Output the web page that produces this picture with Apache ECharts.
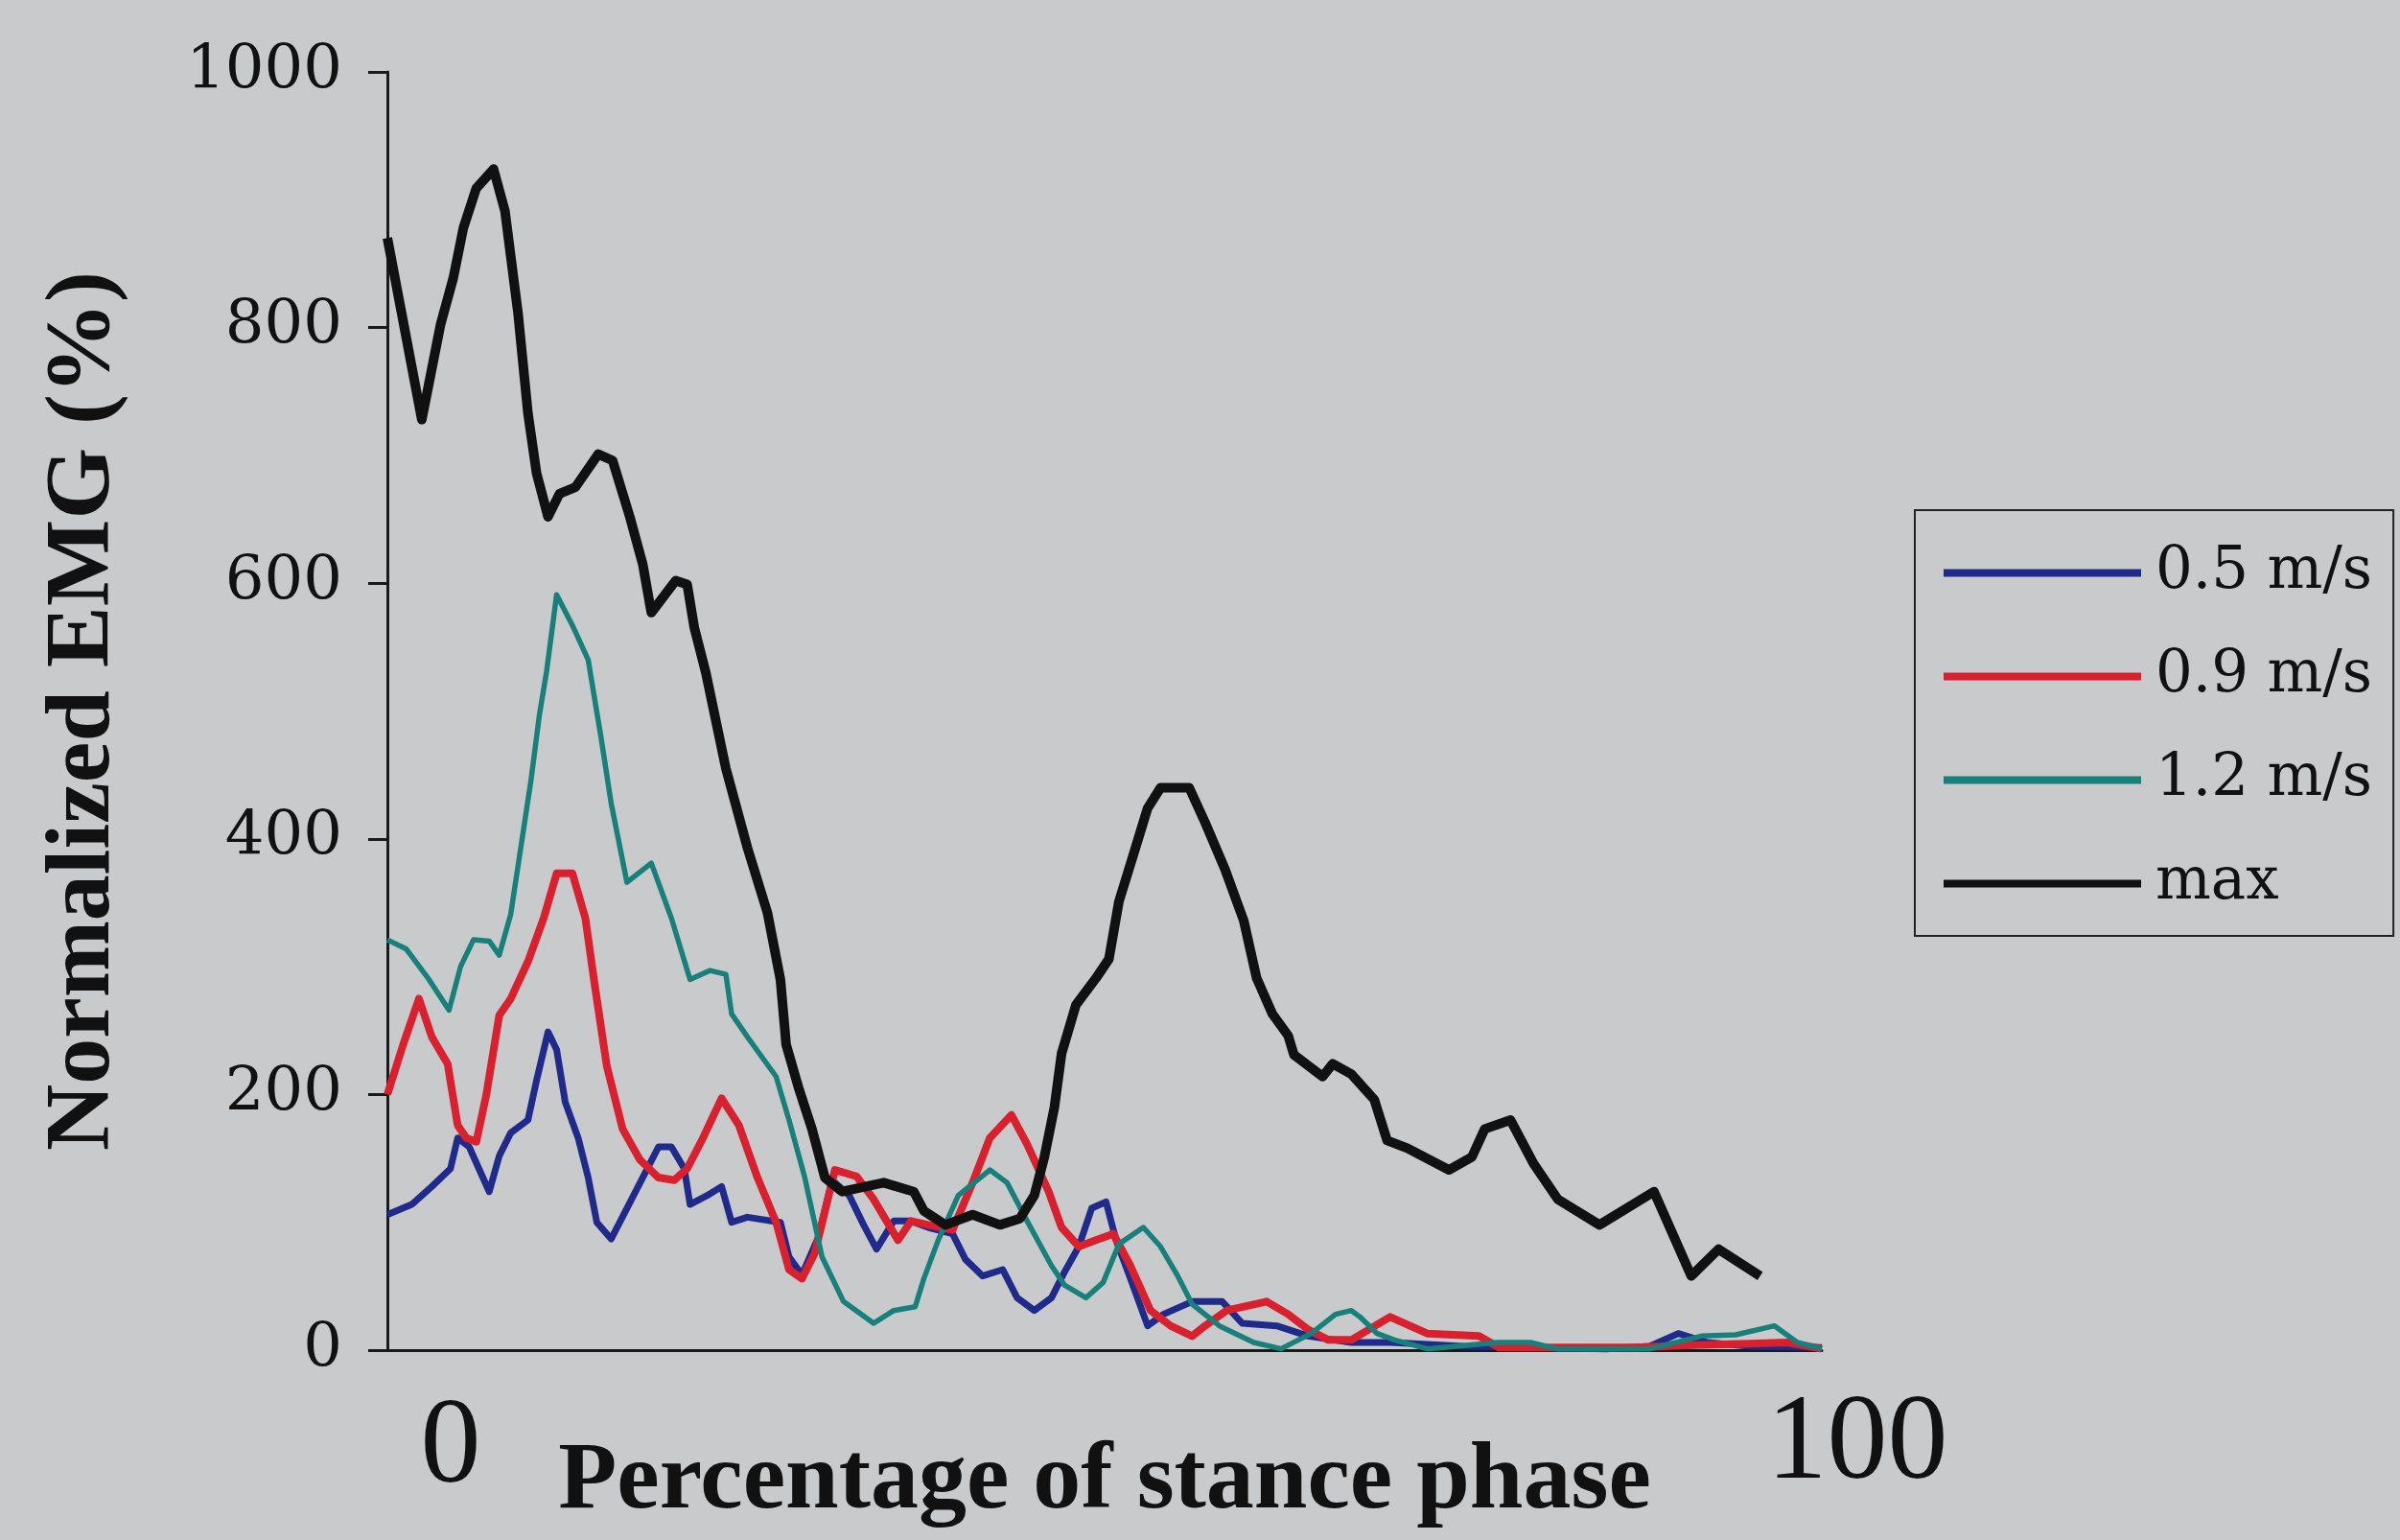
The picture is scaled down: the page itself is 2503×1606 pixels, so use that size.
<!DOCTYPE html>
<html>
<head>
<meta charset="utf-8">
<script src="https://cdn.jsdelivr.net/npm/echarts@6/dist/echarts.min.js"></script>
<style>
html,body{margin:0;padding:0;background:#c9cacc;}
#c{width:2503px;height:1606px;}
</style>
</head>
<body>
<div id="c"></div>
<script>
// Series names (legend)
const seriesNames = ['0.5 m/s', '0.9 m/s', '1.2 m/s', 'max'];
// y tick labels are derived from axis min/max/interval
const yTicks = [0, 200, 400, 600, 800, 1000];
const xEndLabels = ['0', '100'];

// [percentage of stance phase, normalized EMG %]
const speed05 = [[0,106],[1.7,114],[3.1,128],[4.4,142],[4.9,166],[5.7,159],[7.1,124],[7.8,152],[8.6,170],[9.8,180],[10.4,211],[11.2,249],[11.8,235],[12.4,194],[13.3,166],[14.0,135],[14.6,100],[15.6,87],[16.7,111],[17.8,135],[18.9,159],[19.8,159],[20.7,142],[21.1,114],[22.3,121],[23.3,128],[24.0,100],[25.1,104],[27.4,100],[28.0,73],[28.9,59],[30.0,87],[30.9,128],[31.2,131],[32.2,121],[33.2,98],[34.1,79],[35.3,101],[36.5,101],[37.7,96],[39.4,91],[40.3,71],[41.5,58],[42.9,63],[43.9,41],[45.1,31],[46.3,41],[47.2,61],[48.2,81],[49.1,111],[50.1,116],[50.8,86],[51.8,56],[53.0,19],[54.1,28],[56.1,38],[58.2,38],[59.6,21],[62.0,19],[64.2,11],[67.2,6],[70,6],[75,3],[80,2],[85,1],[88,3],[90,13],[92,6],[95,3],[100,2]];

const speed09 = [[0,200],[1.1,239],[2.2,275],[3.1,245],[4.2,224],[4.9,176],[5.5,166],[6.2,163],[6.9,200],[7.8,262],[8.6,275],[9.8,304],[10.9,338],[11.8,373],[12.9,373],[13.8,338],[14.4,290],[15.3,222],[16.4,173],[17.6,149],[18.9,135],[20.0,133],[20.9,142],[22.0,166],[23.3,197],[24.5,176],[25.8,135],[27.1,100],[28.0,63],[28.9,56],[29.8,76],[31.2,141],[32.7,136],[33.9,118],[35.6,86],[36.5,101],[37.7,98],[39.4,94],[40.8,131],[42.0,166],[43.5,184],[44.6,161],[46.1,124],[47.0,96],[48.2,81],[49.4,86],[50.6,91],[51.8,66],[53.2,31],[54.6,19],[56.1,11],[57.0,19],[58.5,31],[61.3,38],[62.8,28],[64.2,16],[65.6,8],[67.2,8],[69.9,26],[72.5,13],[76.1,11],[77.5,2],[82,2],[87,2],[91,4],[95,5],[97.6,6],[100,1]];

const speed12 = [[0,321],[1.3,314],[2.9,290],[4.3,266],[5.1,300],[6.0,321],[7.1,320],[7.8,309],[8.6,341],[9.3,393],[10.0,445],[10.6,497],[11.1,531],[11.8,591],[12.9,567],[14.0,540],[14.9,479],[15.6,428],[16.7,366],[18.4,381],[19.8,338],[21.1,290],[22.5,297],[23.6,294],[24.0,263],[25.1,245],[27.1,214],[28.0,180],[29.1,135],[30.3,73],[31.8,38],[33.9,21],[35.3,31],[36.8,34],[37.4,56],[38.4,86],[39.8,121],[42.0,141],[43.2,131],[44.6,101],[46.3,66],[47.2,51],[48.7,41],[49.9,53],[51.0,83],[52.7,96],[53.9,81],[55.1,58],[56.1,36],[58.0,19],[60.4,6],[62.3,1],[64.4,13],[66.1,28],[67.2,31],[67.8,26],[69.0,13],[70.2,8],[72.5,1],[77.4,6],[79.7,6],[81.5,1],[88,1],[91.6,11],[94.0,12],[96.7,19],[98.3,6],[100,1]];

const maxEmg = [[0,870],[2.4,728],[3.7,802],[4.6,839],[5.3,878],[6.2,909],[7.4,924],[8.2,891],[9.1,812],[9.8,733],[10.4,686],[11.2,652],[12.0,670],[13.1,675],[14.7,701],[15.7,696],[16.9,652],[17.8,615],[18.4,577],[20.1,602],[20.9,599],[21.4,565],[22.2,530],[23.6,455],[25.1,393],[26.5,342],[27.4,290],[27.8,239],[28.7,204],[29.6,173],[30.5,135],[31.7,124],[34.6,131],[36.7,124],[37.4,109],[38.9,98],[40.8,106],[42.7,98],[44.1,103],[45.1,121],[45.8,151],[46.5,190],[47.0,232],[48.0,270],[49.4,291],[50.3,306],[51.0,351],[52.1,391],[53.0,424],[53.9,440],[55.9,440],[57.0,413],[58.4,376],[59.7,336],[60.6,291],[61.7,263],[62.8,246],[63.2,231],[65.2,214],[65.9,224],[67.2,216],[68.8,196],[69.7,164],[71.1,158],[74.0,141],[75.6,151],[76.5,173],[78.3,180],[79.9,146],[81.6,118],[84.5,98],[88.3,124],[90.9,58],[92.8,79],[95.7,58]];

const seriesData = [speed05, speed09, speed12, maxEmg];
const colors = ['#1f2a8a', '#d8202e', '#17807a', '#111111'];
const widths = [7, 8, 5.5, 10];

const chart = echarts.init(document.getElementById('c'));
const serif = '"DejaVu Serif", serif';
const bold = '"Liberation Serif", "Times New Roman", serif';

chart.setOption({
  backgroundColor: '#c9cacc',
  animation: false,
  grid: {left: 404, right: 603, top: 75, bottom: 198, containLabel: false},
  legend: {
    orient: 'vertical',
    left: 1997, top: 532,
    padding: [35, 22, 24, 30],
    itemWidth: 206, itemHeight: 8, itemGap: 47,
    icon: 'rect',
    borderColor: '#222', borderWidth: 2,
    data: seriesNames,
    textStyle: {fontFamily: serif, fontSize: 61, color: '#111', lineHeight: 60, padding: [0, 0, 0, 10]}
  },
  xAxis: {
    type: 'value', min: 0, max: 100,
    axisLine: {show: true, lineStyle: {color: '#1a1a1a', width: 3}},
    axisTick: {show: false},
    axisLabel: {show: false},
    splitLine: {show: false},
    name: 'Percentage of stance phase',
    nameLocation: 'middle', nameGap: 88,
    nameTextStyle: {fontFamily: bold, fontWeight: 'bold', fontSize: 100, color: '#111'}
  },
  yAxis: {
    type: 'value', min: yTicks[0], max: yTicks[yTicks.length - 1], interval: yTicks[1] - yTicks[0],
    axisLine: {show: true, lineStyle: {color: '#1a1a1a', width: 3}},
    axisTick: {show: true, length: 20, lineStyle: {color: '#1a1a1a', width: 3}},
    axisLabel: {fontFamily: serif, fontSize: 64, color: '#111', margin: 47, formatter: v => String(v)},
    splitLine: {show: false},
    name: 'Normalized EMG (%)',
    nameLocation: 'middle', nameGap: 268, nameRotate: 90,
    nameTextStyle: {fontFamily: bold, fontWeight: 'bold', fontSize: 96, color: '#111'}
  },
  graphic: [
    {type: 'text', x: 470, y: 1512, style: {text: xEndLabels[0], font: '126px "Liberation Serif"', fill: '#111', align: 'center', verticalAlign: 'middle', textAlign: 'center', textVerticalAlign: 'middle'}},
    {type: 'text', x: 1937, y: 1508, style: {text: xEndLabels[1], font: '126px "Liberation Serif"', fill: '#111', align: 'center', verticalAlign: 'middle', textAlign: 'center', textVerticalAlign: 'middle'}}
  ],
  series: seriesNames.map((n, i) => ({
    name: n, type: 'line', data: seriesData[i],
    showSymbol: false, symbol: 'none',
    lineStyle: {color: colors[i], width: widths[i], join: 'round'},
    itemStyle: {color: colors[i]},
    z: 2 + i
  }))
});
</script>
</body>
</html>
